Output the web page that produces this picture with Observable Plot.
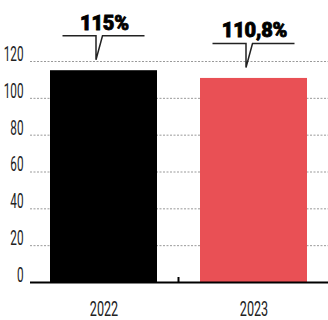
<!DOCTYPE html>
<html><head><meta charset="utf-8">
<script src="https://cdn.jsdelivr.net/npm/d3@7"></script>
<script src="https://cdn.jsdelivr.net/npm/@observablehq/plot@0.6"></script>
<style>body{margin:0;background:#fff} svg{display:block}</style>
</head><body><div id="chart"></div>
<script>
const years = ["2022", "2023"];
const values = [115, 110.8];
const valueLabels = ["115%", "110,8%"];
const barColors = ["#000000", "#e95055"];
const yTicks = [0, 20, 40, 60, 80, 100, 120];
const gridTicks = [20, 40, 60, 80, 100, 120];

const data = years.map((y, i) => ({year: y, value: values[i], label: valueLabels[i], color: barColors[i]}));
const tickFont = "Roboto, 'DejaVu Sans Condensed', sans-serif";

function callout(index, scales) {
  const g = d3.create("svg:g");
  const bw = scales.x.bandwidth ? scales.x.bandwidth() : 0;
  for (const i of index) {
    const d = data[i];
    const cx = scales.x(d.year) + bw / 2;
    const top = scales.y(d.value);
    const ly = top - 34.5, tip = top - 10.5;
    g.append("path")
      .attr("d", `M${cx - 41},${ly}H${cx - 7.5}V${tip}L${cx - 1},${ly}H${cx + 41}`)
      .attr("fill", "none").attr("stroke", "#222").attr("stroke-width", 1.5);
    g.append("text")
      .attr("x", cx + 1).attr("y", ly - 6)
      .attr("text-anchor", "middle")
      .attr("font-family", "Roboto, 'Liberation Sans', sans-serif")
      .attr("font-weight", 900).attr("font-size", 20)
      .attr("fill", "#000").attr("stroke", "#000").attr("stroke-width", 0.8)
      .attr("letter-spacing", -0.2)
      .text(d.label);
  }
  const x0 = scales.x(years[0]) + bw, x1 = scales.x(years[1]);
  const mid = (x0 + x1) / 2, y0 = scales.y(0);
  g.append("line").attr("x1", mid).attr("x2", mid).attr("y1", y0 - 5).attr("y2", y0)
    .attr("stroke", "#000").attr("stroke-width", 2);
  return g.node();
}

const plot = Plot.plot({
  width: 328,
  height: 320,
  marginLeft: 30,
  marginRight: 0,
  marginTop: 61,
  marginBottom: 38,
  style: {background: "#fff"},
  x: {domain: years, paddingInner: 0.285, paddingOuter: 0.13, label: null},
  y: {domain: [0, 120], label: null},
  marks: [
    Plot.gridY(gridTicks, {stroke: "#999", strokeOpacity: 1, strokeDasharray: "2,1.5"}),
    Plot.barY(data, {x: "year", y: "value", fill: "color"}),
    Plot.ruleY([0], {stroke: "#000", strokeWidth: 2}),
    Plot.axisY(yTicks, {tickSize: 0, tickPadding: 7, label: null}),
    Plot.axisX({tickSize: 0, tickPadding: 19, label: null}),
    Plot.dot(data, {x: "year", y: "value", render: callout})
  ]
});
document.getElementById("chart").append(plot);

d3.select(plot).selectAll("g[aria-label='y-axis tick label']").attr("fill", "#222");
d3.select(plot).selectAll("g[aria-label='y-axis tick label'] text").each(function() {
  const n = this.textContent.length;
  this.style.fontSize = "20px";
  this.style.fontFamily = tickFont;
  this.setAttribute("dy", "-7");
  this.setAttribute("textLength", n * 6.6);
  this.setAttribute("lengthAdjust", "spacingAndGlyphs");
});
d3.select(plot).selectAll("g[aria-label='x-axis tick label']").attr("fill", "#222");
d3.select(plot).selectAll("g[aria-label='x-axis tick label'] text").each(function() {
  const n = this.textContent.length;
  this.style.fontSize = "21px";
  this.style.fontFamily = tickFont;
  this.setAttribute("textLength", n * 7.1);
  this.setAttribute("lengthAdjust", "spacingAndGlyphs");
});
</script>
</body></html>
